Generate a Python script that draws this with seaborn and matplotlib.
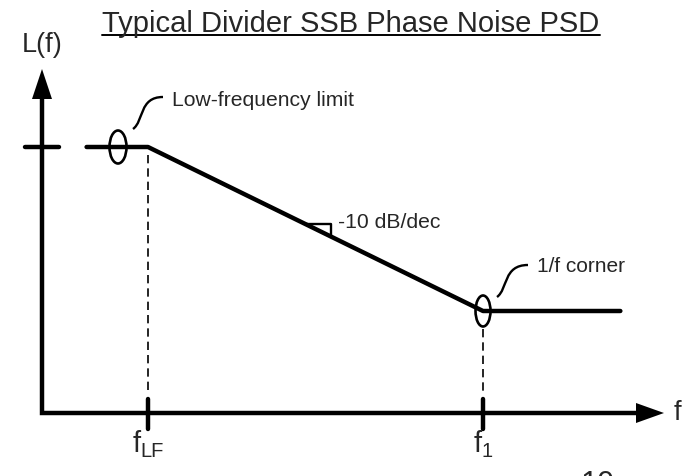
import numpy as np
import matplotlib
matplotlib.use("Agg")
import matplotlib.pyplot as plt
import seaborn as sns
from matplotlib.patches import Ellipse, PathPatch, Polygon
from matplotlib.path import Path

# ==========================
# Data (log10 frequency in decades, PSD in dB)
# ==========================
log_f = [-0.55, 0.0, 3.0, 4.23]
psd_db = [0.0, 0.0, -30.0, -30.0]
corner_f = [0.0, 3.0]
corner_labels = ["LF", "1"]
slope_label = "-10 dB/dec"
title = "Typical Divider SSB Phase Noise PSD"

# pixel -> chart coordinates (schematic layout)
PX_PER_DEC = 111.67
PX_PER_DB = 5.4667


def X(px):
    return (px - 148) / PX_PER_DEC


def Y(py):
    return (148 - py) / PX_PER_DB


sns.set_style("white")
plt.rcParams["font.family"] = ["Liberation Sans", "DejaVu Sans"]

fig = plt.figure(figsize=(6.89, 4.77), dpi=100)
ax = fig.add_axes([0, 0, 1, 1])
ax.set_xlim(X(0), X(689))
ax.set_ylim(Y(477), Y(0))
ax.axis("off")

# axes lines with a square corner
ax.plot([X(42), X(42), X(645)], [Y(95), Y(414), Y(414)], color="k", lw=3.2,
        solid_joinstyle="miter", solid_capstyle="butt")
# arrow heads
ax.add_patch(Polygon([(X(42), Y(70)), (X(32), Y(100)), (X(52), Y(100))],
                     closed=True, color="k", lw=0))
ax.add_patch(Polygon([(X(664), Y(414)), (X(636), Y(404)), (X(636), Y(424))],
                     closed=True, color="k", lw=0))

# y tick at the flat level
ax.plot([X(25), X(59)], [psd_db[0], psd_db[0]], color="k", lw=3.2)

# the PSD curve
sns.lineplot(x=log_f, y=psd_db, color="k", lw=3.2, ax=ax, sort=False)

# x ticks, dashed guides and labels
labels = []
for f, lab, top in zip(corner_f, corner_labels, [psd_db[1], psd_db[2]]):
    ax.plot([f, f], [Y(400), Y(430)], color="k", lw=3.2)
    ax.plot([f, f], [top - (1.5 if f == 0 else 3.3), Y(395)], color="k",
            lw=1.2, ls=(0, (5, 3)))
    tf = ax.text(f, Y(452), "f", fontsize=21, ha="left", va="baseline")
    ts = ax.text(f, Y(457), lab, fontsize=14.5, ha="left", va="baseline")
    labels.append((f, tf, ts))

# center each f + subscript group under its tick
fig.canvas.draw()
for f, tf, ts in labels:
    wf = tf.get_window_extent().width / PX_PER_DEC
    ws = ts.get_window_extent().width / PX_PER_DEC
    left = f - (wf + ws) / 2
    tf.set_x(left)
    ts.set_x(left + wf)

# circles around the flat levels
ax.add_patch(Ellipse((X(118), psd_db[0]), 17 / PX_PER_DEC, 33 / PX_PER_DB,
                     fill=False, lw=1.9, ec="k"))
ax.add_patch(Ellipse((corner_f[1], psd_db[2]), 15 / PX_PER_DEC, 31 / PX_PER_DB,
                     fill=False, lw=1.9, ec="k"))


def leader(p0, p1, p2, p3):
    verts = [(X(a), Y(b)) for a, b in (p0, p1, p2, p3)]
    path = Path(verts, [Path.MOVETO, Path.CURVE4, Path.CURVE4, Path.CURVE4])
    ax.add_patch(PathPatch(path, fill=False, lw=1.7, ec="k"))


leader((133, 130), (144, 122), (139, 98), (163, 98))
ax.text(X(172), Y(100), "Low-frequency limit", fontsize=15.2, va="center")

leader((497, 298), (508, 290), (503, 266), (528, 266))
ax.text(X(537), Y(267), "1/f corner", fontsize=15, va="center")

# slope marker
slope = (psd_db[2] - psd_db[1]) / (log_f[2] - log_f[1])
xa, xb = X(305), X(331)
ya = psd_db[1] + slope * (xa - log_f[1])
yb = psd_db[1] + slope * (xb - log_f[1])
ax.plot([xa, xb, xb], [ya, ya, yb], color="k", lw=1.7)
ax.text(X(338), Y(222), slope_label, fontsize=15.2, va="center")

# axis labels
ax.text(X(42), Y(45), "L(f)", fontsize=19.5, ha="center", va="center")
ax.text(X(677), Y(413), "f", fontsize=19.5, ha="center", va="center")

# title with underline
t = ax.text(X(351), Y(32), title, fontsize=21, ha="center", va="baseline")
fig.canvas.draw()
bb = t.get_window_extent().transformed(ax.transData.inverted())
ax.plot([bb.x0, bb.x1], [Y(36), Y(36)], color="k", lw=1.4)

# page number cut at the bottom edge
ax.text(X(598), Y(470), "10", fontsize=22, ha="center", va="top")

plt.savefig("out.png", dpi=100)
